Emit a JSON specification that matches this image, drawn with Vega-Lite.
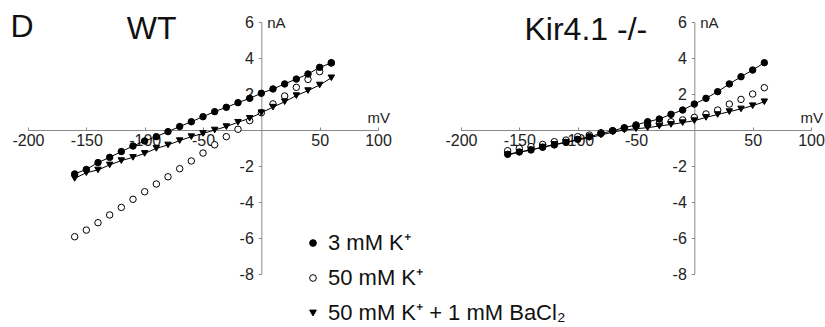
{
  "$schema": "https://vega.github.io/schema/vega-lite/v6.json",
  "background": "white",
  "padding": {"left": 10, "top": 10, "right": 0, "bottom": 0},
  "spacing": 83,
  "bounds": "flush",
  "config": {
    "font": "Liberation Sans",
    "view": {"stroke": null},
    "axis": {"grid": false, "domainColor": "#888", "tickColor": "#888", "labelFont": "Liberation Sans", "labelFontSize": 16, "labelColor": "#222", "tickSize": 3, "labelPadding": 2, "labelOverlap": false, "labelFlush": false, "labelExpr": "datum.value < 0 ? '-' + abs(datum.value) : '' + datum.value"},
    "axisX": {"tickSize": -3, "labelPadding": 5},
    "axisY": {"labelPadding": 5},
    "legend": {"labelLimit": 0, "title": null, "orient": "none", "legendX": 274, "legendY": 210, "padding": 0, "labelFontSize": 22, "labelFont": "Liberation Sans", "labelColor": "#111", "symbolSize": 45, "symbolStrokeWidth": 1, "rowPadding": 13, "labelOffset": 4}
  },
  "datasets": {
    "wt": [
      {"s": "50 mM K⁺", "v": -160, "i": -5.93}, {"s": "50 mM K⁺", "v": -150, "i": -5.56}, {"s": "50 mM K⁺", "v": -140, "i": -5.15}, {"s": "50 mM K⁺", "v": -130, "i": -4.72}, {"s": "50 mM K⁺", "v": -120, "i": -4.3}, {"s": "50 mM K⁺", "v": -110, "i": -3.85}, {"s": "50 mM K⁺", "v": -100, "i": -3.43}, {"s": "50 mM K⁺", "v": -90, "i": -3.0}, {"s": "50 mM K⁺", "v": -80, "i": -2.6}, {"s": "50 mM K⁺", "v": -70, "i": -2.15}, {"s": "50 mM K⁺", "v": -60, "i": -1.72}, {"s": "50 mM K⁺", "v": -50, "i": -1.28}, {"s": "50 mM K⁺", "v": -40, "i": -0.82}, {"s": "50 mM K⁺", "v": -30, "i": -0.37}, {"s": "50 mM K⁺", "v": -20, "i": 0.04}, {"s": "50 mM K⁺", "v": -10, "i": 0.52}, {"s": "50 mM K⁺", "v": 0, "i": 0.96}, {"s": "50 mM K⁺", "v": 10, "i": 1.45}, {"s": "50 mM K⁺", "v": 20, "i": 1.89}, {"s": "50 mM K⁺", "v": 30, "i": 2.37}, {"s": "50 mM K⁺", "v": 40, "i": 2.81}, {"s": "50 mM K⁺", "v": 50, "i": 3.24}, {"s": "50 mM K⁺", "v": 60, "i": 3.74},
      {"s": "3 mM K⁺", "v": -160, "i": -2.44}, {"s": "3 mM K⁺", "v": -150, "i": -2.19}, {"s": "3 mM K⁺", "v": -140, "i": -1.81}, {"s": "3 mM K⁺", "v": -130, "i": -1.52}, {"s": "3 mM K⁺", "v": -120, "i": -1.2}, {"s": "3 mM K⁺", "v": -110, "i": -0.89}, {"s": "3 mM K⁺", "v": -100, "i": -0.61}, {"s": "3 mM K⁺", "v": -90, "i": -0.37}, {"s": "3 mM K⁺", "v": -80, "i": -0.09}, {"s": "3 mM K⁺", "v": -70, "i": 0.19}, {"s": "3 mM K⁺", "v": -60, "i": 0.46}, {"s": "3 mM K⁺", "v": -50, "i": 0.74}, {"s": "3 mM K⁺", "v": -40, "i": 1.02}, {"s": "3 mM K⁺", "v": -30, "i": 1.26}, {"s": "3 mM K⁺", "v": -20, "i": 1.52}, {"s": "3 mM K⁺", "v": -10, "i": 1.76}, {"s": "3 mM K⁺", "v": 0, "i": 2.04}, {"s": "3 mM K⁺", "v": 10, "i": 2.28}, {"s": "3 mM K⁺", "v": 20, "i": 2.56}, {"s": "3 mM K⁺", "v": 30, "i": 2.83}, {"s": "3 mM K⁺", "v": 40, "i": 3.11}, {"s": "3 mM K⁺", "v": 50, "i": 3.48}, {"s": "3 mM K⁺", "v": 60, "i": 3.72},
      {"s": "50 mM K⁺ + 1 mM BaCl₂", "v": -160, "i": -2.69}, {"s": "50 mM K⁺ + 1 mM BaCl₂", "v": -150, "i": -2.37}, {"s": "50 mM K⁺ + 1 mM BaCl₂", "v": -140, "i": -2.22}, {"s": "50 mM K⁺ + 1 mM BaCl₂", "v": -130, "i": -1.94}, {"s": "50 mM K⁺ + 1 mM BaCl₂", "v": -120, "i": -1.7}, {"s": "50 mM K⁺ + 1 mM BaCl₂", "v": -110, "i": -1.52}, {"s": "50 mM K⁺ + 1 mM BaCl₂", "v": -100, "i": -1.3}, {"s": "50 mM K⁺ + 1 mM BaCl₂", "v": -90, "i": -1.02}, {"s": "50 mM K⁺ + 1 mM BaCl₂", "v": -80, "i": -0.83}, {"s": "50 mM K⁺ + 1 mM BaCl₂", "v": -70, "i": -0.59}, {"s": "50 mM K⁺ + 1 mM BaCl₂", "v": -60, "i": -0.37}, {"s": "50 mM K⁺ + 1 mM BaCl₂", "v": -50, "i": -0.19}, {"s": "50 mM K⁺ + 1 mM BaCl₂", "v": -40, "i": 0.0}, {"s": "50 mM K⁺ + 1 mM BaCl₂", "v": -30, "i": 0.19}, {"s": "50 mM K⁺ + 1 mM BaCl₂", "v": -20, "i": 0.43}, {"s": "50 mM K⁺ + 1 mM BaCl₂", "v": -10, "i": 0.65}, {"s": "50 mM K⁺ + 1 mM BaCl₂", "v": 0, "i": 0.96}, {"s": "50 mM K⁺ + 1 mM BaCl₂", "v": 10, "i": 1.27}, {"s": "50 mM K⁺ + 1 mM BaCl₂", "v": 20, "i": 1.57}, {"s": "50 mM K⁺ + 1 mM BaCl₂", "v": 30, "i": 1.91}, {"s": "50 mM K⁺ + 1 mM BaCl₂", "v": 40, "i": 2.19}, {"s": "50 mM K⁺ + 1 mM BaCl₂", "v": 50, "i": 2.5}, {"s": "50 mM K⁺ + 1 mM BaCl₂", "v": 60, "i": 2.9}
    ],
    "kir": [
      {"s": "50 mM K⁺", "v": -160, "i": -1.15}, {"s": "50 mM K⁺", "v": -150, "i": -1.02}, {"s": "50 mM K⁺", "v": -140, "i": -0.92}, {"s": "50 mM K⁺", "v": -130, "i": -0.8}, {"s": "50 mM K⁺", "v": -120, "i": -0.65}, {"s": "50 mM K⁺", "v": -110, "i": -0.56}, {"s": "50 mM K⁺", "v": -100, "i": -0.37}, {"s": "50 mM K⁺", "v": -90, "i": -0.28}, {"s": "50 mM K⁺", "v": -80, "i": -0.15}, {"s": "50 mM K⁺", "v": -70, "i": -0.04}, {"s": "50 mM K⁺", "v": -60, "i": 0.09}, {"s": "50 mM K⁺", "v": -50, "i": 0.2}, {"s": "50 mM K⁺", "v": -40, "i": 0.28}, {"s": "50 mM K⁺", "v": -30, "i": 0.37}, {"s": "50 mM K⁺", "v": -20, "i": 0.46}, {"s": "50 mM K⁺", "v": -10, "i": 0.56}, {"s": "50 mM K⁺", "v": 0, "i": 0.7}, {"s": "50 mM K⁺", "v": 10, "i": 0.89}, {"s": "50 mM K⁺", "v": 20, "i": 1.11}, {"s": "50 mM K⁺", "v": 30, "i": 1.44}, {"s": "50 mM K⁺", "v": 40, "i": 1.7}, {"s": "50 mM K⁺", "v": 50, "i": 2.0}, {"s": "50 mM K⁺", "v": 60, "i": 2.35},
      {"s": "3 mM K⁺", "v": -160, "i": -1.35}, {"s": "3 mM K⁺", "v": -150, "i": -1.22}, {"s": "3 mM K⁺", "v": -140, "i": -1.11}, {"s": "3 mM K⁺", "v": -130, "i": -0.96}, {"s": "3 mM K⁺", "v": -120, "i": -0.83}, {"s": "3 mM K⁺", "v": -110, "i": -0.69}, {"s": "3 mM K⁺", "v": -100, "i": -0.52}, {"s": "3 mM K⁺", "v": -90, "i": -0.37}, {"s": "3 mM K⁺", "v": -80, "i": -0.2}, {"s": "3 mM K⁺", "v": -70, "i": -0.04}, {"s": "3 mM K⁺", "v": -60, "i": 0.13}, {"s": "3 mM K⁺", "v": -50, "i": 0.28}, {"s": "3 mM K⁺", "v": -40, "i": 0.46}, {"s": "3 mM K⁺", "v": -30, "i": 0.61}, {"s": "3 mM K⁺", "v": -20, "i": 0.87}, {"s": "3 mM K⁺", "v": -10, "i": 1.11}, {"s": "3 mM K⁺", "v": 0, "i": 1.44}, {"s": "3 mM K⁺", "v": 10, "i": 1.76}, {"s": "3 mM K⁺", "v": 20, "i": 2.13}, {"s": "3 mM K⁺", "v": 30, "i": 2.56}, {"s": "3 mM K⁺", "v": 40, "i": 2.96}, {"s": "3 mM K⁺", "v": 50, "i": 3.33}, {"s": "3 mM K⁺", "v": 60, "i": 3.74},
      {"s": "50 mM K⁺ + 1 mM BaCl₂", "v": -160, "i": -1.38}, {"s": "50 mM K⁺ + 1 mM BaCl₂", "v": -150, "i": -1.24}, {"s": "50 mM K⁺ + 1 mM BaCl₂", "v": -140, "i": -1.1}, {"s": "50 mM K⁺ + 1 mM BaCl₂", "v": -130, "i": -0.95}, {"s": "50 mM K⁺ + 1 mM BaCl₂", "v": -120, "i": -0.8}, {"s": "50 mM K⁺ + 1 mM BaCl₂", "v": -110, "i": -0.68}, {"s": "50 mM K⁺ + 1 mM BaCl₂", "v": -100, "i": -0.56}, {"s": "50 mM K⁺ + 1 mM BaCl₂", "v": -90, "i": -0.42}, {"s": "50 mM K⁺ + 1 mM BaCl₂", "v": -80, "i": -0.28}, {"s": "50 mM K⁺ + 1 mM BaCl₂", "v": -70, "i": -0.12}, {"s": "50 mM K⁺ + 1 mM BaCl₂", "v": -60, "i": 0.0}, {"s": "50 mM K⁺ + 1 mM BaCl₂", "v": -50, "i": 0.07}, {"s": "50 mM K⁺ + 1 mM BaCl₂", "v": -40, "i": 0.13}, {"s": "50 mM K⁺ + 1 mM BaCl₂", "v": -30, "i": 0.22}, {"s": "50 mM K⁺ + 1 mM BaCl₂", "v": -20, "i": 0.31}, {"s": "50 mM K⁺ + 1 mM BaCl₂", "v": -10, "i": 0.41}, {"s": "50 mM K⁺ + 1 mM BaCl₂", "v": 0, "i": 0.52}, {"s": "50 mM K⁺ + 1 mM BaCl₂", "v": 10, "i": 0.7}, {"s": "50 mM K⁺ + 1 mM BaCl₂", "v": 20, "i": 0.86}, {"s": "50 mM K⁺ + 1 mM BaCl₂", "v": 30, "i": 1.02}, {"s": "50 mM K⁺ + 1 mM BaCl₂", "v": 40, "i": 1.17}, {"s": "50 mM K⁺ + 1 mM BaCl₂", "v": 50, "i": 1.35}, {"s": "50 mM K⁺ + 1 mM BaCl₂", "v": 60, "i": 1.57}
    ],
    "wtTitle": [{"t": "WT", "v": -94, "i": 5.6}],
    "kirTitle": [{"t": "Kir4.1 -/-", "v": -93, "i": 5.55}],
    "panelLetter": [{"t": "D", "v": -215, "i": 5.75}],
    "units": [{"t": "nA", "v": 5, "i": 5.95}, {"t": "mV", "v": 91, "i": 0.67}]
  },
  "hconcat": [
    {
      "width": 350, "height": 252,
      "encoding": {
        "x": {"field": "v", "type": "quantitative", "scale": {"domain": [-200, 100], "nice": false, "zero": false}, "axis": {"values": [-200, -150, -100, -50, 50, 100], "offset": -144, "title": null}},
        "y": {"field": "i", "type": "quantitative", "scale": {"domain": [-8, 6], "nice": false, "zero": false}, "axis": {"values": [-8, -6, -4, -2, 2, 4, 6], "offset": -233.333, "title": null}}
      },
      "layer": [
        {"data": {"name": "wt"}, "transform": [{"filter": "datum.s !== '50 mM K⁺'"}], "mark": {"type": "line", "color": "black", "strokeWidth": 1}, "encoding": {"detail": {"field": "s"}}},
        {"data": {"name": "wt"}, "mark": {"type": "point", "strokeWidth": 1, "opacity": 1, "size": 42},
         "encoding": {
           "shape": {"field": "s", "type": "nominal", "sort": null, "scale": {"domain": ["3 mM K⁺", "50 mM K⁺", "50 mM K⁺ + 1 mM BaCl₂"], "range": ["circle", "circle", "triangle-down"]}},
           "fill": {"field": "s", "type": "nominal", "sort": null, "scale": {"domain": ["3 mM K⁺", "50 mM K⁺", "50 mM K⁺ + 1 mM BaCl₂"], "range": ["black", "white", "black"]}},
           "stroke": {"field": "s", "type": "nominal", "sort": null, "scale": {"domain": ["3 mM K⁺", "50 mM K⁺", "50 mM K⁺ + 1 mM BaCl₂"], "range": ["black", "black", "black"]}}
         }},
        {"data": {"name": "wtTitle"}, "mark": {"type": "text", "fontSize": 32, "align": "center", "baseline": "middle", "color": "#111"}, "encoding": {"text": {"field": "t"}}},
        {"data": {"name": "panelLetter"}, "mark": {"type": "text", "fontSize": 32, "align": "left", "baseline": "middle", "color": "#111"}, "encoding": {"text": {"field": "t"}}},
        {"data": {"name": "units"}, "mark": {"type": "text", "fontSize": 15, "align": "left", "baseline": "middle", "color": "#222"}, "encoding": {"text": {"field": "t"}}}
      ]
    },
    {
      "width": 350, "height": 252,
      "encoding": {
        "x": {"field": "v", "type": "quantitative", "scale": {"domain": [-200, 100], "nice": false, "zero": false}, "axis": {"values": [-200, -150, -100, -50, 50, 100], "offset": -144, "title": null}},
        "y": {"field": "i", "type": "quantitative", "scale": {"domain": [-8, 6], "nice": false, "zero": false}, "axis": {"values": [-8, -6, -4, -2, 2, 4, 6], "offset": -233.333, "title": null}}
      },
      "layer": [
        {"data": {"name": "kir"}, "transform": [{"filter": "datum.s !== '50 mM K⁺'"}], "mark": {"type": "line", "color": "black", "strokeWidth": 1}, "encoding": {"detail": {"field": "s"}}},
        {"data": {"name": "kir"}, "mark": {"type": "point", "strokeWidth": 1, "opacity": 1, "size": 42},
         "encoding": {
           "shape": {"field": "s", "type": "nominal", "sort": null, "scale": {"domain": ["3 mM K⁺", "50 mM K⁺", "50 mM K⁺ + 1 mM BaCl₂"], "range": ["circle", "circle", "triangle-down"]}},
           "fill": {"field": "s", "type": "nominal", "sort": null, "scale": {"domain": ["3 mM K⁺", "50 mM K⁺", "50 mM K⁺ + 1 mM BaCl₂"], "range": ["black", "white", "black"]}},
           "stroke": {"field": "s", "type": "nominal", "sort": null, "scale": {"domain": ["3 mM K⁺", "50 mM K⁺", "50 mM K⁺ + 1 mM BaCl₂"], "range": ["black", "black", "black"]}}
         }},
        {"data": {"name": "kirTitle"}, "mark": {"type": "text", "fontSize": 32, "align": "center", "baseline": "middle", "color": "#111"}, "encoding": {"text": {"field": "t"}}},
        {"data": {"name": "units"}, "mark": {"type": "text", "fontSize": 15, "align": "left", "baseline": "middle", "color": "#222"}, "encoding": {"text": {"field": "t"}}}
      ]
    }
  ]
}
